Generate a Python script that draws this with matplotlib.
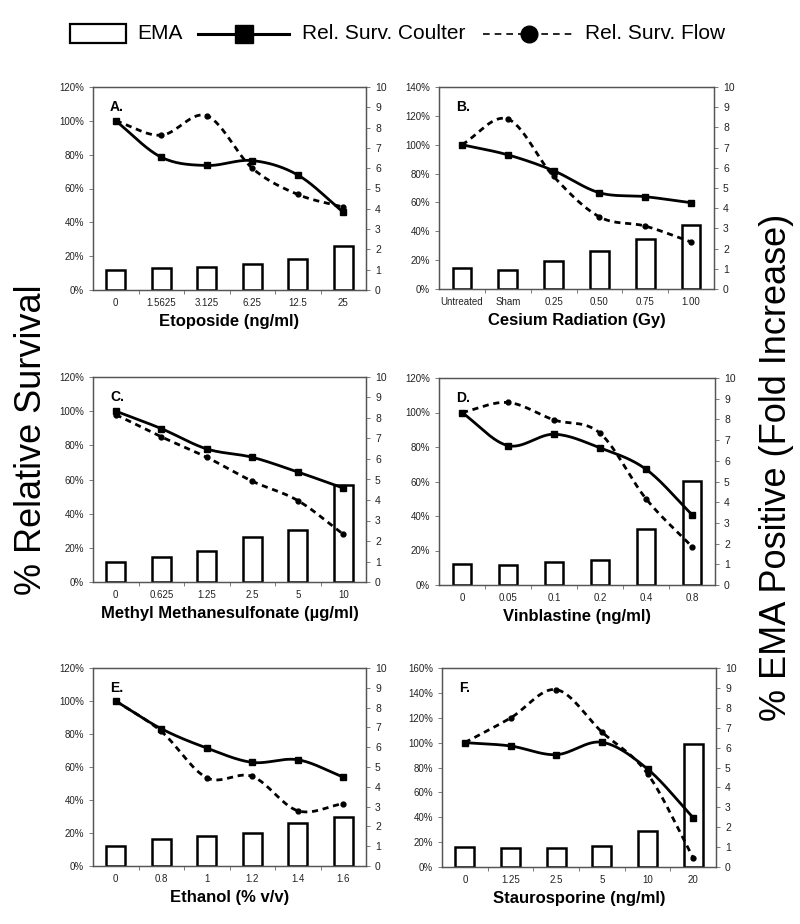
import numpy as np
import matplotlib
matplotlib.use("Agg")
import matplotlib.pyplot as plt
from matplotlib.ticker import FuncFormatter, FixedLocator
from matplotlib.patches import Rectangle
from matplotlib.lines import Line2D

plt.rcParams['font.family'] = ['Liberation Sans', 'DejaVu Sans']

# ---------------- data ----------------
titles = ["A.", "B.", "C.", "D.", "E.", "F."]
xlabels = ["Etoposide (ng/ml)", "Cesium Radiation (Gy)",
           "Methyl Methanesulfonate (\u00b5g/ml)", "Vinblastine (ng/ml)",
           "Ethanol (% v/v)", "Staurosporine (ng/ml)"]

cats_A = ["0", "1.5625", "3.125", "6.25", "12.5", "25"]
cats_B = ["Untreated", "Sham", "0.25", "0.50", "0.75", "1.00"]
cats_C = ["0", "0.625", "1.25", "2.5", "5", "10"]
cats_D = ["0", "0.05", "0.1", "0.2", "0.4", "0.8"]
cats_E = ["0", "0.8", "1", "1.2", "1.4", "1.6"]
cats_F = ["0", "1.25", "2.5", "5", "10", "20"]

ema_A = [1.0, 1.08, 1.11, 1.28, 1.55, 2.15]
ema_B = [1.02, 0.92, 1.37, 1.88, 2.49, 3.15]
ema_C = [1.0, 1.22, 1.49, 2.18, 2.56, 4.72]
ema_D = [1.02, 0.96, 1.09, 1.23, 2.71, 5.03]
ema_E = [1.0, 1.38, 1.52, 1.68, 2.15, 2.47]
ema_F = [1.02, 0.95, 0.97, 1.07, 1.79, 6.2]

coulter_A = [100, 78.5, 73.6, 76.5, 68, 46]
coulter_B = [100, 93, 82, 66.7, 64, 59.8]
coulter_C = [100, 89.8, 77.9, 73.0, 64.4, 55]
coulter_D = [100, 80.8, 87.4, 79.5, 67.1, 40.8]
coulter_E = [100, 83.2, 71.5, 62.8, 64.4, 53.9]
coulter_F = [100, 97.3, 90.3, 100.3, 78.8, 39.7]

flow_A = [100, 91.5, 103, 72, 56.5, 49]
flow_B = [100, 117.8, 78, 50, 43.6, 32.6]
flow_C = [98, 85, 73, 59, 47.7, 28]
flow_D = [100, 105.8, 95.7, 88, 50, 22.2]
flow_E = [100, 81.6, 53.5, 54.3, 33.5, 37.8]
flow_F = [100, 119.8, 142.6, 108.6, 75, 7.5]

ymax_left = [120, 140, 120, 120, 120, 160]

legend_labels = ["EMA", "Rel. Surv. Coulter", "Rel. Surv. Flow"]
left_label = "% Relative Survival"
right_label = "% EMA Positive (Fold Increase)"

cats_all = [cats_A, cats_B, cats_C, cats_D, cats_E, cats_F]
ema_all = [ema_A, ema_B, ema_C, ema_D, ema_E, ema_F]
coulter_all = [coulter_A, coulter_B, coulter_C, coulter_D, coulter_E, coulter_F]
flow_all = [flow_A, flow_B, flow_C, flow_D, flow_E, flow_F]

# axes rectangles in pixels (left, right, top, bottom)
W, H = 800, 924
boxes = [(93, 366, 87, 290), (439, 714, 87, 289),
         (93, 366, 377, 582), (439, 715, 378, 585),
         (93, 366, 668, 866), (442, 716, 668, 867)]


def smooth(x, y, n=30):
    """Catmull-Rom smoothing through the given points (display smoothing only)."""
    x = np.asarray(x, float)
    y = np.asarray(y, float)
    P = np.column_stack([x, y])
    P = np.vstack([P[0] - (P[1] - P[0]), P, P[-1] + (P[-1] - P[-2])])
    out = []
    for i in range(1, len(P) - 2):
        p0, p1, p2, p3 = P[i - 1], P[i], P[i + 1], P[i + 2]
        t = np.linspace(0, 1, n, endpoint=(i == len(P) - 3))[:, None]
        c = 0.5 * ((2 * p1) + (-p0 + p2) * t + (2 * p0 - 5 * p1 + 4 * p2 - p3) * t ** 2
                   + (-p0 + 3 * p1 - 3 * p2 + p3) * t ** 3)
        out.append(c)
    c = np.vstack(out)
    return c[:, 0], c[:, 1]


fig = plt.figure(figsize=(8, 9.24), dpi=100)

for i in range(6):
    l, r, t, b = boxes[i]
    ax = fig.add_axes([l / W, 1 - b / H, (r - l) / W, (b - t) / H])
    ax2 = ax.twinx()
    ax.set_zorder(ax2.get_zorder() + 1)
    ax.patch.set_visible(False)

    x = np.arange(len(cats_all[i]))
    ax2.bar(x, ema_all[i], width=0.41, facecolor='white', edgecolor='black',
            linewidth=1.8, zorder=2)
    ax2.set_ylim(0, 10)
    ax2.yaxis.set_major_locator(FixedLocator(range(0, 11)))

    ymax = ymax_left[i]
    sx, sy = smooth(x, coulter_all[i])
    ax.plot(sx, sy, color='black', lw=2.0, solid_capstyle='round', zorder=3)
    ax.plot(x, coulter_all[i], ls='none', marker='s', ms=4.5, color='black', zorder=4)
    fx, fy = smooth(x, flow_all[i])
    ax.plot(fx, fy, color='black', lw=2.0, ls=(0, (2.2, 1.7)), zorder=3)
    ax.plot(x, flow_all[i], ls='none', marker='o', ms=3.5, color='black', zorder=4)

    ax.set_ylim(0, ymax)
    ax.set_xlim(-0.5, len(x) - 0.5)
    ax.yaxis.set_major_locator(FixedLocator(np.arange(0, ymax + 1, 20)))
    ax.yaxis.set_major_formatter(FuncFormatter(lambda v, p: f"{int(round(v))}%"))
    ax.set_xticks(x)
    ax.set_xticklabels(cats_all[i])
    ax.set_xticks(np.arange(0.5, len(x) - 0.5), minor=True)
    ax.tick_params(axis='x', which='major', length=0, labelsize=7, pad=6, colors='#222222')
    ax.tick_params(axis='x', which='minor', length=3, width=0.6, color='#666666')
    ax.tick_params(axis='y', length=3, width=0.6, labelsize=7, color='#666666',
                   labelcolor='#222222')
    ax2.tick_params(axis='y', length=3, width=0.6, labelsize=7.5, color='#666666',
                    labelcolor='#222222')
    for a in (ax, ax2):
        for s in a.spines.values():
            s.set_color('#555555')
            s.set_linewidth(0.9)
    ax.set_xlabel(xlabels[i], fontsize=12, fontweight='bold', labelpad=4)
    ax.text(0.062, 0.935, titles[i], transform=ax.transAxes, fontsize=10,
            fontweight='bold', va='top', ha='left')

fig.text(32 / W, 1 - 440 / H, left_label, rotation=90, fontsize=26,
         ha='center', va='center')
fig.text(776 / W, 1 - 467 / H, right_label, rotation=90,
         fontsize=26, ha='center', va='center')

# legend drawn on a full-figure overlay in pixel coordinates
lax = fig.add_axes([0, 0, 1, 1], zorder=10)
lax.set_xlim(0, W)
lax.set_ylim(H, 0)
lax.axis('off')
ly = 33.5
lax.add_patch(Rectangle((70, 24), 56, 19, facecolor='white', edgecolor='black', lw=1.6))
lax.text(137, ly, legend_labels[0], fontsize=15, va='center', ha='left')
lax.add_line(Line2D([198, 289], [ly, ly], color='black', lw=2.2))
lax.add_line(Line2D([243.5], [ly], color='black', marker='s', ms=13.5, ls='none'))
lax.text(302, ly, legend_labels[1], fontsize=15, va='center', ha='left')
lax.add_line(Line2D([483, 575], [ly, ly], color='black', lw=1.2, ls=(0, (4, 3))))
lax.add_line(Line2D([529], [ly], color='black', marker='o', ms=12, ls='none'))
lax.text(585, ly, legend_labels[2], fontsize=15, va='center', ha='left')

fig.savefig("out.png", dpi=100)
